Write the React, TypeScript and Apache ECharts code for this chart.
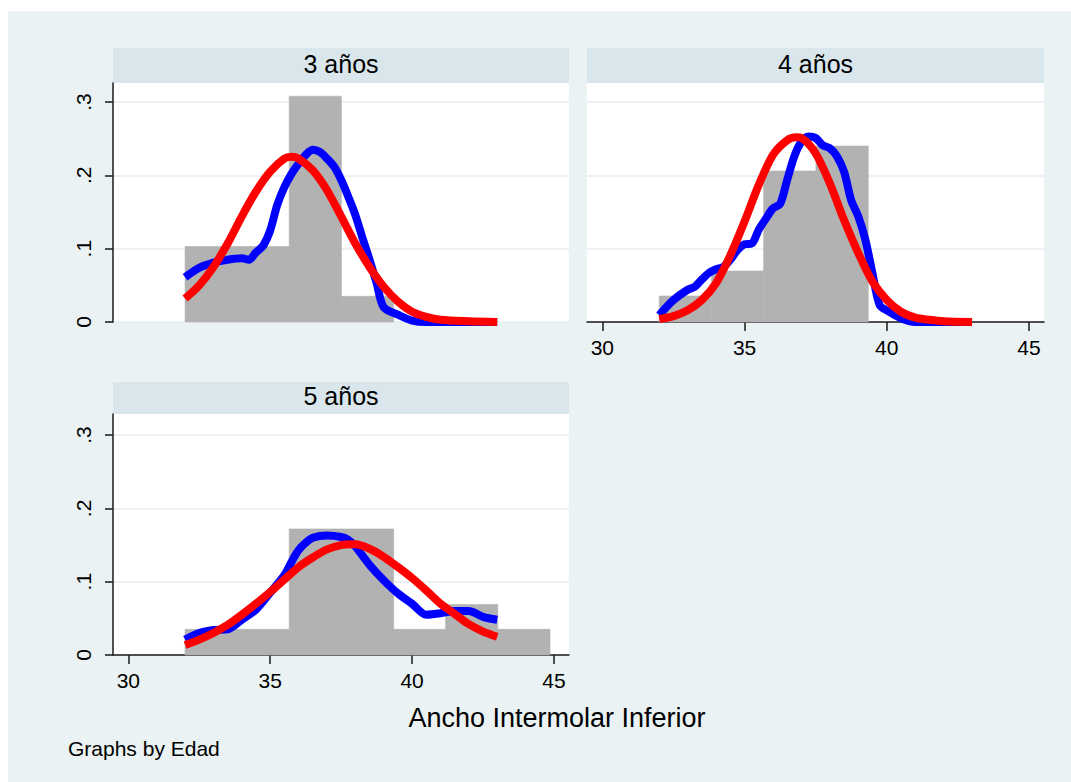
import React, { useEffect, useRef } from "react";
import * as echarts from "echarts";

const panelTitles = ["3 años", "4 años", "5 años"];
const xTicks = [30, 35, 40, 45];
const yTicks = [0, 0.1, 0.2, 0.3];
const yTickLabels = ["0", ".1", ".2", ".3"];
const xAxisTitle = "Ancho Intermolar Inferior";
const noteText = "Graphs by Edad";

const binEdges = [32, 33.84, 35.67, 37.51, 39.35, 41.18, 43.02, 44.86];
const hist3 = [0.103, 0.103, 0.308, 0.035, 0, 0, 0];
const hist4 = [0.0355, 0.0696, 0.206, 0.24, 0, 0, 0];
const hist5 = [0.035, 0.035, 0.172, 0.172, 0.035, 0.069, 0.035];

const kdeX3 = [32, 32.5, 33, 33.5, 34, 34.25, 34.5, 34.75, 35, 35.25, 35.5, 35.75, 36, 36.25, 36.5, 36.75, 37, 37.25, 37.5, 37.75, 38, 38.25, 38.5, 38.75, 39, 39.5, 40, 40.5, 41, 42, 43];
const kde3 = [0.061, 0.074, 0.081, 0.085, 0.087, 0.085, 0.095, 0.104, 0.125, 0.16, 0.184, 0.202, 0.216, 0.228, 0.235, 0.232, 0.223, 0.212, 0.194, 0.171, 0.146, 0.115, 0.085, 0.053, 0.02, 0.01, 0.002, 0, 0, 0, 0];
const normX3 = [32, 32.5, 33, 33.5, 34, 34.5, 35, 35.5, 35.75, 36, 36.5, 37, 37.5, 38, 38.5, 39, 39.5, 40, 40.5, 41, 42, 43];
const norm3 = [0.032, 0.05, 0.075, 0.107, 0.144, 0.178, 0.205, 0.223, 0.2255, 0.223, 0.207, 0.18, 0.144, 0.107, 0.075, 0.048, 0.028, 0.014, 0.007, 0.003, 0.001, 0];

const kdeX4 = [32, 32.5, 33, 33.25, 33.5, 33.75, 34, 34.25, 34.5, 34.75, 35, 35.25, 35.5, 35.75, 36, 36.25, 36.5, 36.75, 37, 37.25, 37.5, 37.75, 38, 38.25, 38.5, 38.75, 39, 39.25, 39.5, 39.75, 40, 40.5, 41, 42, 43];
const kde4 = [0.0095, 0.03, 0.044, 0.048, 0.058, 0.067, 0.072, 0.075, 0.085, 0.098, 0.106, 0.107, 0.126, 0.141, 0.155, 0.161, 0.194, 0.226, 0.246, 0.253, 0.251, 0.241, 0.237, 0.226, 0.205, 0.166, 0.144, 0.112, 0.066, 0.023, 0.016, 0.005, 0, 0, 0];
const normX4 = [32, 32.5, 33, 33.5, 34, 34.5, 35, 35.5, 36, 36.5, 36.82, 37, 37.5, 38, 38.5, 39, 39.5, 40, 40.5, 41, 41.5, 42, 43];
const norm4 = [0.004, 0.008, 0.016, 0.03, 0.053, 0.091, 0.137, 0.187, 0.228, 0.248, 0.252, 0.251, 0.23, 0.189, 0.139, 0.094, 0.055, 0.03, 0.014, 0.006, 0.003, 0.001, 0];

const kdeX5 = [32, 32.5, 33, 33.5, 34, 34.5, 35, 35.5, 35.75, 36, 36.25, 36.5, 37, 37.5, 37.75, 38, 38.5, 39, 39.5, 40, 40.5, 41, 41.5, 42, 42.5, 43];
const kde5 = [0.021, 0.03, 0.034, 0.035, 0.048, 0.062, 0.085, 0.109, 0.127, 0.143, 0.153, 0.16, 0.163, 0.161, 0.157, 0.148, 0.123, 0.102, 0.084, 0.07, 0.055, 0.057, 0.06, 0.06, 0.052, 0.048];
const normX5 = [32, 32.5, 33, 33.5, 34, 34.5, 35, 35.5, 36, 36.5, 37, 37.5, 37.87, 38, 38.5, 39, 39.5, 40, 40.5, 41, 41.5, 42, 42.5, 43];
const norm5 = [0.0136, 0.021, 0.03, 0.041, 0.055, 0.07, 0.086, 0.103, 0.12, 0.133, 0.144, 0.15, 0.151, 0.151, 0.145, 0.134, 0.12, 0.105, 0.088, 0.07, 0.056, 0.042, 0.032, 0.025];

const FONT = "'Liberation Sans', Arial, Helvetica, sans-serif";
const BG = "#eaf2f3";
const HEADER = "#d9e6eb";
const GRID_LINE = "#e6eef1";
const HIST = "#b2b2b2";

const grids = [
  { left: 105, top: 72, width: 456, height: 239, ymax: 0.326 },
  { left: 579, top: 72, width: 457, height: 239, ymax: 0.326 },
  { left: 105, top: 403, width: 456, height: 241, ymax: 0.3288 },
];
const headerBoxes = [
  { x: 105, y: 37, w: 456, h: 35 },
  { x: 579, y: 37, w: 457, h: 35 },
  { x: 105, y: 371, w: 456, h: 32 },
];

function pairs(xs: number[], ys: number[]) {
  return xs.map((x, i) => [x, ys[i]]);
}
function histData(h: number[]) {
  return h.map((v, i) => [binEdges[i], binEdges[i + 1], v]);
}

export default function App() {
  const ref = useRef<HTMLDivElement>(null);
  useEffect(() => {
    if (!ref.current) return;
    const chart = echarts.init(ref.current, undefined, { renderer: "svg" });
    const showX = [false, true, true];
    const showY = [true, false, true];
    const hists = [hist3, hist4, hist5];
    const kdes = [pairs(kdeX3, kde3), pairs(kdeX4, kde4), pairs(kdeX5, kde5)];
    const norms = [pairs(normX3, norm3), pairs(normX4, norm4), pairs(normX5, norm5)];

    const series: any[] = [];
    grids.forEach((g, i) => {
      series.push({
        type: "custom",
        xAxisIndex: i,
        yAxisIndex: i,
        data: histData(hists[i]),
        encode: { x: [0, 1], y: 2 },
        renderItem: (params: any, api: any) => {
          const h = api.value(2);
          if (!h) return null;
          const p0 = api.coord([api.value(0), h]);
          const p1 = api.coord([api.value(1), 0]);
          return {
            type: "rect",
            shape: { x: p0[0], y: p0[1], width: p1[0] - p0[0], height: p1[1] - p0[1] },
            style: { fill: HIST, stroke: HIST, lineWidth: 0.6 },
          };
        },
        z: 1,
      });
      series.push({
        type: "line",
        xAxisIndex: i,
        yAxisIndex: i,
        data: kdes[i],
        showSymbol: false,
        smooth: 0.3,
        clip: false,
        lineStyle: { color: "#0000ff", width: 8 },
        z: 2,
      });
      series.push({
        type: "line",
        xAxisIndex: i,
        yAxisIndex: i,
        data: norms[i],
        showSymbol: false,
        smooth: 0.3,
        clip: false,
        lineStyle: { color: "#ff0000", width: 8 },
        z: 3,
      });
    });

    const graphic: any[] = [];
    headerBoxes.forEach((b, i) => {
      graphic.push({
        type: "rect",
        shape: { x: b.x, y: b.y, width: b.w, height: b.h },
        style: { fill: HEADER },
        silent: true,
      });
      graphic.push({
        type: "text",
        x: b.x + b.w / 2,
        y: b.y + b.h / 2 - 2,
        style: {
          text: panelTitles[i],
          fill: "#000",
          font: `25px ${FONT}`,
          align: "center",
          verticalAlign: "middle",
        },
        silent: true,
      });
    });
    graphic.push({
      type: "text",
      x: 549,
      y: 707,
      style: { text: xAxisTitle, fill: "#000", font: `27px ${FONT}`, align: "center", verticalAlign: "middle" },
    });
    graphic.push({
      type: "text",
      x: 60,
      y: 737,
      style: { text: noteText, fill: "#000", font: `21px ${FONT}`, align: "left", verticalAlign: "middle" },
    });

    chart.setOption({
      animation: false,
      backgroundColor: BG,
      grid: grids.map((g) => ({
        left: g.left,
        top: g.top,
        width: g.width,
        height: g.height,
        show: true,
        backgroundColor: "#ffffff",
        borderWidth: 0,
        containLabel: false,
      })),
      xAxis: grids.map((g, i) => ({
        type: "value",
        gridIndex: i,
        min: 29.46,
        max: 45.53,
        splitLine: { show: false },
        axisLine: { show: showX[i], onZero: false, lineStyle: { color: "#1a1a1a", width: 1.5 } },
        axisTick: { show: showX[i], length: 9, customValues: xTicks, lineStyle: { color: "#1a1a1a", width: 1.5 } },
        axisLabel: {
          show: showX[i],
          customValues: xTicks,
          margin: 15,
          color: "#000",
          fontSize: 21,
          fontFamily: FONT,
        },
      })),
      yAxis: grids.map((g, i) => ({
        type: "value",
        gridIndex: i,
        min: 0,
        max: g.ymax,
        interval: 0.1,
        splitLine: { show: true, lineStyle: { color: GRID_LINE, width: 1.5 } },
        axisLine: { show: showY[i], onZero: false, lineStyle: { color: "#1a1a1a", width: 1.5 } },
        axisTick: { show: showY[i], length: 8, customValues: yTicks, lineStyle: { color: "#1a1a1a", width: 1.5 } },
        axisLabel: {
          show: showY[i],
          customValues: yTicks,
          rotate: 90,
          margin: 19,
          color: "#000",
          fontSize: 21,
          fontFamily: FONT,
          formatter: (v: number) => {
            const idx = yTicks.findIndex((t) => Math.abs(t - v) < 1e-6);
            return idx >= 0 ? yTickLabels[idx] : "";
          },
        },
      })),
      series,
      graphic,
    });
    return () => chart.dispose();
  }, []);
  return (
    <div
      ref={ref}
      style={{ position: "absolute", left: 8, top: 11, width: 1063, height: 771 }}
    />
  );
}
